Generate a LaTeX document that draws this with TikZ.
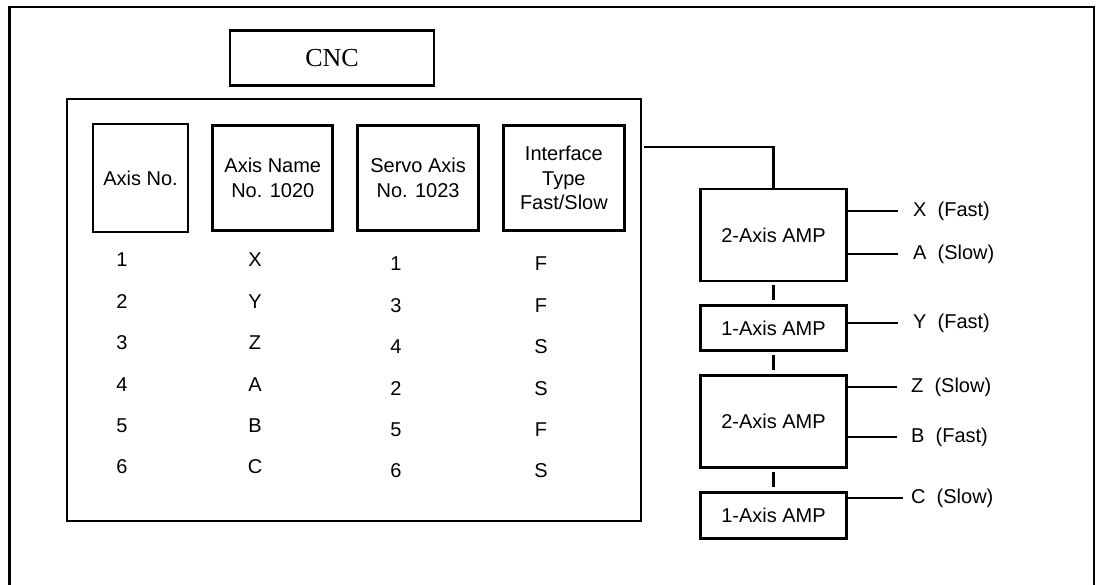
\documentclass[tikz,border=0pt]{standalone}
\usepackage{fontspec}
\setmainfont{Liberation Sans}
\newfontfamily\cncfont{Liberation Serif}
\usetikzlibrary{positioning,chains}

\tikzset{
    box/.style = {draw, line width=2.8pt, inner sep=0pt, align=center},
    hdr/.style = {box, minimum height=105pt, font=\fontsize{20}{24.5}\selectfont},
    amp/.style = {box, minimum width=146pt, font=\fontsize{20}{24}\selectfont},
    cell/.style = {inner sep=0pt, font=\fontsize{20}{24}\selectfont},
    outlbl/.style = {inner sep=0pt, anchor=west, font=\fontsize{20}{24}\selectfont},
    wire/.style = {line width=2.8pt},
}

\begin{document}
\begin{tikzpicture}[x=1pt, y=-1pt, node distance = 22pt and 22pt]
    \useasboundingbox (0,0) rectangle (1096,585);

    % outer frame (open at the bottom)
    \draw[wire] (9.5,585) -- (9.5,7) -- (1094,7) -- (1094,585);

    \node[box, minimum width=204pt, minimum height=55pt,
          font=\cncfont\fontsize{26}{30}\selectfont] (cnc) at (332,58) {CNC};
    \node[box, minimum width=574pt, minimum height=422pt] (panel) at (354,310) {};

    % parameter headers
    \begin{scope}[start chain = H going right]
        \node[hdr, minimum width=95pt, minimum height=108pt, on chain] at (140.5,178) {Axis No.};
        \node[hdr, minimum width=120pt, on chain] {Axis Name\\No. 1020};
        \node[hdr, minimum width=121pt, on chain] {Servo Axis\\No. 1023};
        \node[hdr, minimum width=121pt, on chain] {Interface\\Type\\Fast/Slow};
    \end{scope}

    % table rows
    \foreach \n/\nm/\sv/\ty [count=\i from 0] in {1/X/1/F, 2/Y/3/F, 3/Z/4/S, 4/A/2/S, 5/B/5/F, 6/C/6/S}
        {
            \node[cell] (no-\n) at (122, 260+41.4*\i) {\n};
            \node[cell] (nm-\n) at (255, 260+41.4*\i) {\nm};
            \node[cell] (sv-\n) at (396, 264+41.4*\i) {\sv};
            \node[cell] (ty-\n) at (541, 264+41.4*\i) {\ty};
        }

    % amplifier chain
    \begin{scope}[start chain = A going below]
        \node[amp, minimum height=92pt, on chain] at (773.5,235) {2-Axis AMP};
        \node[amp, minimum height=45pt, on chain] {1-Axis AMP};
        \node[amp, minimum height=92pt, on chain] {2-Axis AMP};
        \node[amp, minimum height=46pt, on chain] {1-Axis AMP};
    \end{scope}

    \foreach \i [count=\j] in {2,...,4}
        {
            \draw[wire, shorten <=3pt, shorten >=4pt] (A-\j) -- (A-\i);
        }

    \coordinate (tap) at (644,147);
    \draw[wire] (tap) -| (A-1.north);

    % axis outputs
    \node[outlbl] (X) at (913,211) {X~~(Fast)};
    \node[outlbl] (A) at (913,254) {A~~(Slow)};
    \node[outlbl] (Y) at (913,323) {Y~~(Fast)};
    \node[outlbl] (Z) at (911,387) {Z~~(Slow)};
    \node[outlbl] (B) at (911,437) {B~~(Fast)};
    \node[outlbl] (C) at (911,498) {C~~(Slow)};

    \foreach \lbl/\k/\gap in {X/1/15, A/1/15, Y/2/15, Z/3/14, B/3/14, C/4/8}
        {
            \draw[wire] (A-\k.east |- \lbl) -- ([xshift=-\gap pt]\lbl.west);
        }
\end{tikzpicture}
\end{document}
